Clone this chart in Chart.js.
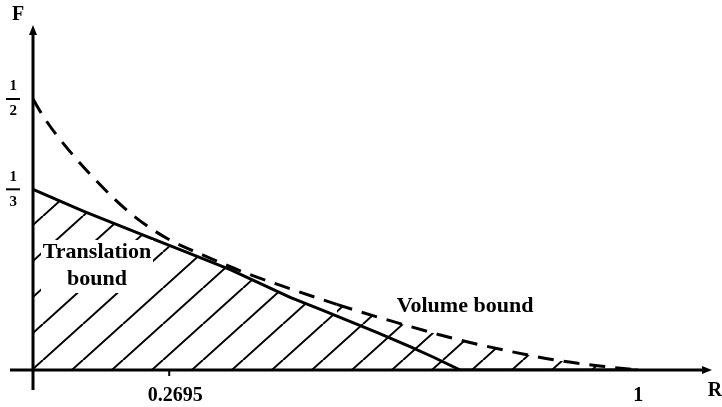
<!DOCTYPE html>
<html>
<head>
<meta charset="utf-8">
<script src="https://cdn.jsdelivr.net/npm/chart.js"></script>
<style>
  html, body { margin: 0; padding: 0; background: #fff; }
  #wrap { width: 722px; height: 407px; }
</style>
</head>
<body>
<div id="wrap"><canvas id="chart"></canvas></div>
<script>
// values
const volumeR = [0, 0.017, 0.040, 0.098, 0.160, 0.221, 0.281, 0.354, 0.425, 0.502, 0.590, 0.689, 0.777, 0.866, 0.940, 1.0];
const volumeF = [0.5, 0.468, 0.432, 0.357, 0.290, 0.243, 0.212, 0.178, 0.150, 0.121, 0.091, 0.060, 0.037, 0.018, 0.007, 0];
const transR = [0, 0.083, 0.177, 0.243, 0.326, 0.425, 0.479, 0.569, 0.623, 0.661, 0.706, 1.0];
const transF = [1 / 3, 0.293, 0.251, 0.222, 0.185, 0.134, 0.110, 0.069, 0.043, 0.024, 0, 0];
const xTickPos = [0.235, 1];
const xTickLabels = ['0.2695', '1'];
const yTickPos = [1 / 3, 1 / 2];
const yTickLabels = [['1', '3'], ['1', '2']];
const hatchFrom = 0.43;

const serif = "'Liberation Serif', 'Times New Roman', serif";

// diagonal hatch pattern
const tile = document.createElement('canvas');
tile.width = 40;
tile.height = 36;
const tctx = tile.getContext('2d');
tctx.strokeStyle = '#000';
tctx.lineWidth = 2;
for (let k = 0; k <= 2; k++) {
  tctx.beginPath();
  tctx.moveTo(k * 40 - 40, 36);
  tctx.lineTo(k * 40, 0);
  tctx.stroke();
}
const hatch = tctx.createPattern(tile, 'repeat');
hatch.setTransform(new DOMMatrix([1, 0, 0, 1, 3, 0]));

const decor = {
  id: 'decor',
  afterDraw(chart) {
    const { ctx, scales: { x, y } } = chart;
    const x0 = x.getPixelForValue(0);
    const y0 = y.getPixelForValue(0);
    ctx.save();
    ctx.strokeStyle = '#000';
    ctx.fillStyle = '#000';
    ctx.lineWidth = 3;

    // axes with arrows
    ctx.beginPath();
    ctx.moveTo(10, y0); ctx.lineTo(x.right - 5, y0);
    ctx.moveTo(x0, 390); ctx.lineTo(x0, y.top + 5);
    ctx.stroke();
    ctx.beginPath();
    ctx.moveTo(x.right, y0); ctx.lineTo(x.right - 10, y0 - 4); ctx.lineTo(x.right - 10, y0 + 4); ctx.closePath();
    ctx.moveTo(x0, y.top); ctx.lineTo(x0 - 4, y.top + 10); ctx.lineTo(x0 + 4, y.top + 10); ctx.closePath();
    ctx.fill();

    // small tick under 0.2695
    ctx.lineWidth = 2;
    const tx = x.getPixelForValue(xTickPos[0]) - 6;
    ctx.beginPath(); ctx.moveTo(tx, y0); ctx.lineTo(tx, y0 + 6); ctx.stroke();

    // fraction bars
    yTickPos.forEach(v => {
      const py = y.getPixelForValue(v);
      ctx.beginPath(); ctx.moveTo(6, py); ctx.lineTo(20, py); ctx.stroke();
    });

    // axis names
    ctx.font = 'bold 20px ' + serif;
    ctx.textAlign = 'center';
    ctx.textBaseline = 'middle';
    ctx.fillText('F', 18, 15);
    ctx.fillText('R', 715, 391);

    // region labels
    ctx.fillStyle = '#fff';
    ctx.fillRect(41, 240, 112, 53);
    ctx.fillStyle = '#000';
    ctx.font = 'bold 22px ' + serif;
    ctx.fillText('Translation', 97, 252);
    ctx.fillText('bound', 97, 279);
    ctx.fillText('Volume bound', 465, 306);
    ctx.restore();
  }
};

new Chart('chart', {
  type: 'line',
  data: {
    datasets: [
      {
        label: 'Volume bound',
        data: volumeR.map((r, i) => ({ x: r, y: volumeF[i] })),
        borderColor: '#000',
        borderWidth: 3,
        borderDash: [16, 10],
        pointRadius: 0,
        cubicInterpolationMode: 'monotone',
        backgroundColor: 'rgba(0,0,0,0)',
        fill: 1,
        segment: {
          backgroundColor: c => c.p0.parsed.x >= hatchFrom ? hatch : 'rgba(0,0,0,0)'
        }
      },
      {
        label: 'Translation bound',
        data: transR.map((r, i) => ({ x: r, y: transF[i] })),
        borderColor: '#000',
        borderWidth: 3,
        pointRadius: 0,
        tension: 0,
        backgroundColor: hatch,
        fill: 'origin'
      }
    ]
  },
  options: {
    responsive: true,
    maintainAspectRatio: false,
    animation: false,
    layout: { padding: { top: 25, right: 10, left: 0, bottom: 0 } },
    plugins: { legend: { display: false }, tooltip: { enabled: false } },
    scales: {
      x: {
        type: 'linear',
        min: 0,
        max: 1.122,
        grid: { display: false },
        border: { display: false },
        afterFit: s => { s.height = 37; s.paddingLeft = 0; s.paddingRight = 0; },
        afterBuildTicks: s => { s.ticks = xTickPos.map(v => ({ value: v })); },
        ticks: {
          padding: 6,
          color: '#000',
          maxRotation: 0,
          font: { family: serif, size: 20, weight: 'bold' },
          callback: (v, i) => xTickLabels[i]
        }
      },
      y: {
        type: 'linear',
        min: 0,
        max: 0.6365,
        grid: { display: false },
        border: { display: false },
        afterFit: s => { s.width = 33; s.paddingTop = 0; s.paddingBottom = 0; },
        afterBuildTicks: s => { s.ticks = yTickPos.map(v => ({ value: v })); },
        ticks: {
          padding: 8,
          color: '#000',
          font: { family: serif, size: 15, weight: 'bold', lineHeight: '25px' },
          callback: (v, i) => yTickLabels[i]
        }
      }
    }
  },
  plugins: [decor]
});
</script>
</body>
</html>
